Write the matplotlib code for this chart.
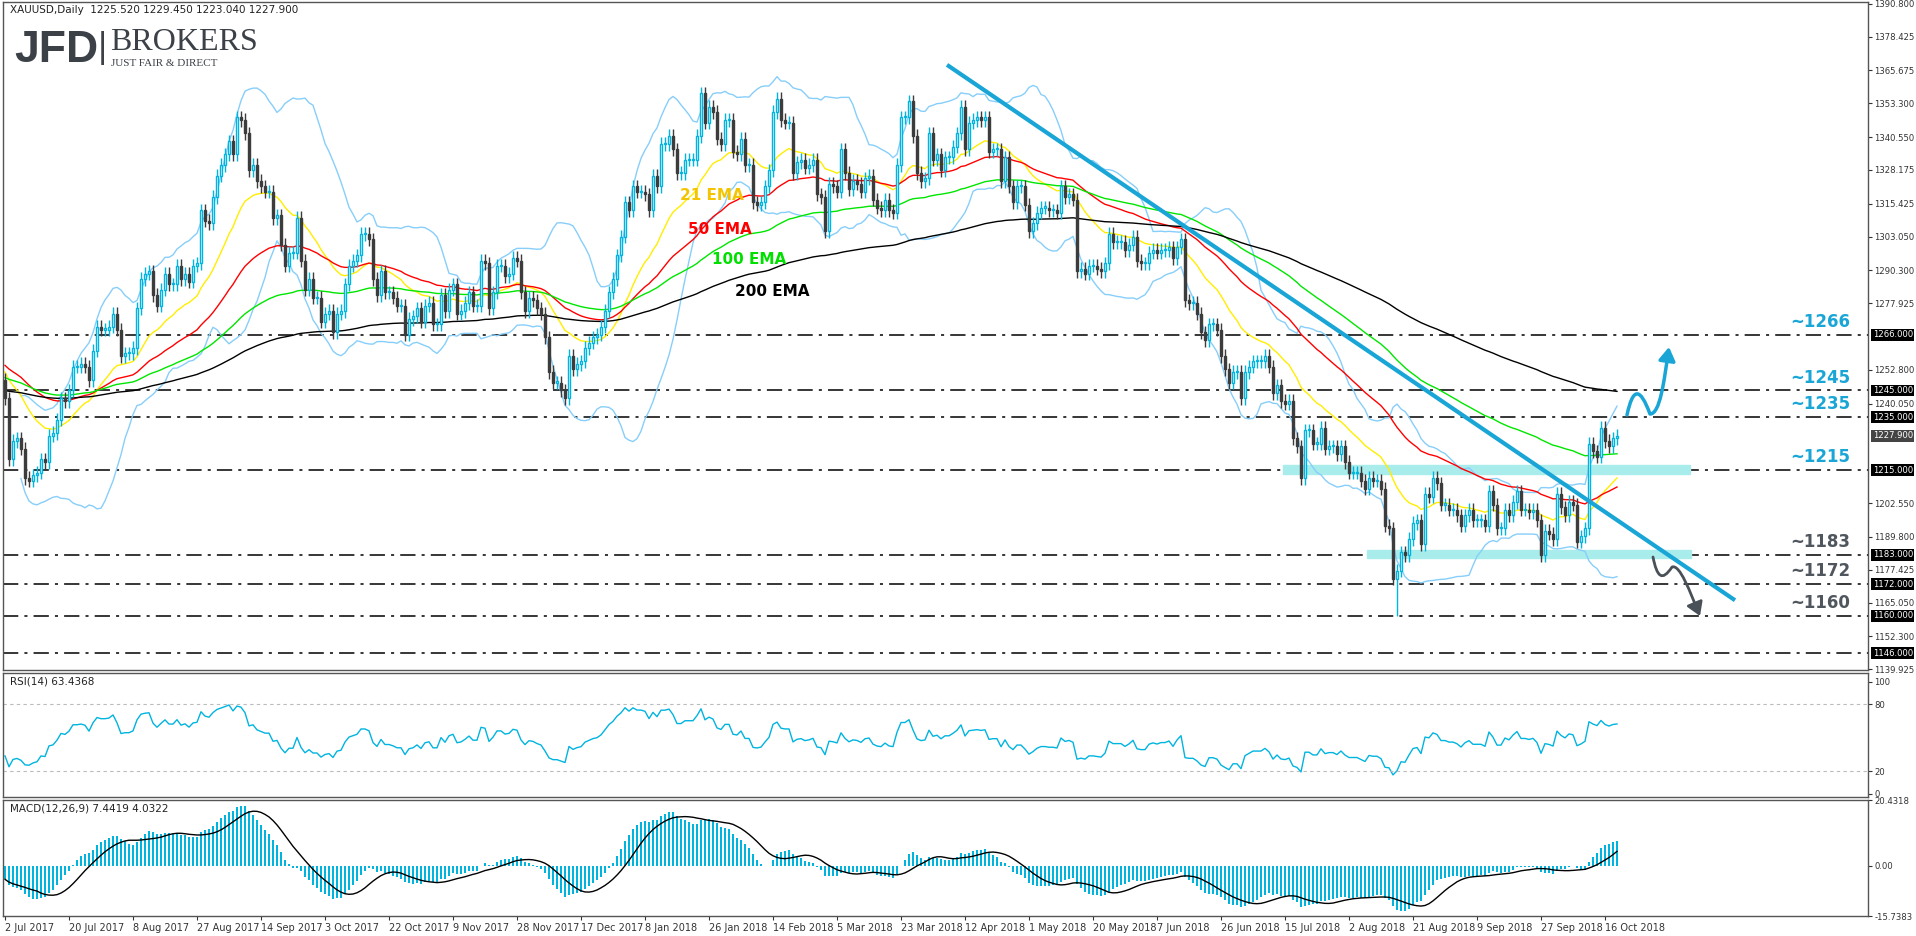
import numpy as np
import pandas as pd
import matplotlib
matplotlib.use("Agg")
import matplotlib.pyplot as plt
from matplotlib.patches import Rectangle, FancyArrowPatch
from matplotlib.path import Path

# ---- data (daily closes, MT4 bars Sun..Fri, from 2 Jul 2017) ----
closes = [
 1242,1219,1226,1227,1223,1212, 1211,1213,1214,1219,1218,1228, 1229,1234,1242,1241,1245,1254,
 1254,1255,1254,1249,1260,1269, 1268,1268,1269,1274,1268,1258, 1259,1259,1261,1276,1287,1289,
 1290,1281,1277,1283,1289,1285, 1285,1292,1287,1289,1286,1292, 1293,1313,1309,1308,1318,1326,
 1330,1334,1339,1334,1348,1347, 1342,1328,1330,1324,1322,1320, 1320,1310,1311,1300,1292,1297,
 1297,1310,1294,1283,1287,1280, 1280,1271,1274,1275,1267,1274, 1275,1285,1292,1294,1296,1304,
 1304,1302,1287,1281,1290,1282, 1282,1280,1277,1277,1266,1272, 1273,1276,1271,1277,1278,1270,
 1270,1281,1275,1283,1285,1274, 1275,1278,1282,1277,1277,1294, 1293,1276,1282,1292,1292,1288,
 1289,1295,1294,1282,1275,1280, 1279,1276,1274,1265,1252,1248, 1248,1245,1242,1258,1253,1255,
 1256,1261,1263,1265,1266,1269, 1275,1282,1287,1296, 1303,1316,1313,1322,1320,
 1320,1319,1313,1326,1322,1338, 1338,1341,1336,1327,1327,1332, 1332,1332,1341,1357,1346,1352,
 1350,1340,1338,1347,1347,1335, 1334,1340,1330,1330,1316,1315, 1316,1322,1328,1350,1355,1347,
 1346,1346,1327,1331,1332,1329, 1330,1332,1319,1318,1305,1323, 1322,1320,1336,1327,1321,1324,
 1323,1320,1325,1326,1317,1314, 1313,1317,1313,1312,1330,1348, 1348,1354,1341,1327,1324,
 1325,1342,1332,1334,1328,1333, 1333,1337,1342,1352,1336,1346, 1347,1348,1347,1348,1335,1336,
 1336,1324,1333,1322,1316,1322, 1322,1315,1305,1308,1312,1314, 1314,1313,1313,1312,1322,1318,
 1319,1317,1290,1291,1289,1292, 1292,1291,1290,1293,1304,1301, 1301,1301,1298,1300,1303,1294,
 1293,1293,1297,1298,1297,1298, 1298,1299,1295,1299,1302,1279, 1278,1278,1274,1267,1264,1270,
 1270,1268,1258,1253,1248,1252, 1252,1242,1252,1254,1256,1256, 1256,1258,1254,1244,1247,1241,
 1240,1241,1227,1224,1212,1230, 1230,1225,1225,1231,1223,1224, 1224,1221,1224,1218,1214,1214,
 1214,1211,1208,1212,1211,1211, 1208,1194,1193,1174,1177,1184, 1183,1189,1195,1196,1187,1206,
 1205,1212,1210,1202,1202,1200, 1200,1198,1194,1198,1200,1196, 1196,1196,1194,1207,1202,1193,
 1193,1200,1198,1203,1207,1200, 1200,1199,1200,1196,1183,1192, 1191,1189,1206,1201,1198,1203,
 1202,1188,1190,1193,1225,1222, 1220,1231,1226,1224,1227,1227.9,
]
first_open = 1249.0
wick = 2.5
spike_lows = {"2018-08-16": 1160.0}
skip_days = ["2017-12-24", "2017-12-25", "2018-01-01", "2018-03-30"]
ema_seeds = {21: 1253.0, 50: 1255.0, 100: 1250.0, 200: 1245.0}
macd_seeds = {"ema12": 1245.0, "ema26": 1249.4, "signal": -4.0}
rsi_seeds = {"up": 1.6, "down": 2.6}
levels = [1266, 1245, 1235, 1215, 1183, 1172, 1160, 1146]
cyan_levels = ["~1266", "~1245", "~1235", "~1215"]
grey_levels = ["~1183", "~1172", "~1160"]
price_ticks = [1390.800,1378.425,1365.675,1353.300,1340.550,1328.175,1315.425,1303.050,1290.300,
               1277.925,1252.800,1240.050,1202.550,1189.800,1177.425,1165.050,1152.300,1139.925]

# ---- dates ----
days = pd.date_range("2017-07-02", "2018-10-19", freq="D")
days = [d for d in days if d.dayofweek != 5 and d.strftime("%Y-%m-%d") not in skip_days]
n = len(closes)
days = days[:n]
c = np.array(closes, float)
o = np.concatenate([[first_open], c[:-1]])
hi = np.maximum(o, c) + wick
lo = np.minimum(o, c) - wick
for i, d in enumerate(days):
    k = d.strftime("%Y-%m-%d")
    if k in spike_lows:
        lo[i] = spike_lows[k]

def ema(x, p, seed):
    a = 2 / (p + 1); out = []; v = seed
    for xi in x:
        v = v + a * (xi - v); out.append(v)
    return np.array(out)

emas = {p: ema(c, p, s) for p, s in ema_seeds.items()}
s = pd.Series(c)
mid = s.rolling(20, min_periods=5).mean()
sd = s.rolling(20, min_periods=5).std(ddof=0)
bu, bl = mid + 2 * sd, mid - 2 * sd
delta = np.diff(np.concatenate([[first_open], c]))
u, d_ = rsi_seeds["up"], rsi_seeds["down"]; rsi = []
for dv in delta:
    u = u + (max(dv, 0) - u) / 14
    d_ = d_ + (max(-dv, 0) - d_) / 14
    rsi.append(100 - 100 / (1 + u / d_))
rsi = np.array(rsi)
macd = ema(c, 12, macd_seeds["ema12"]) - ema(c, 26, macd_seeds["ema26"])
sig = pd.Series(macd).rolling(9, min_periods=1).mean().values

# ---- figure ----
W, H = 1916, 936
fig = plt.figure(figsize=(W/100, H/100), dpi=100)
plt.rcParams['font.family'] = ['DejaVu Sans']
L = 3/W; R = 1868/W
def ax_at(top, bot):
    return fig.add_axes([L, 1-bot/H, R-L, (bot-top)/H])
ax = ax_at(2, 670); ar = ax_at(673, 797); am = ax_at(800, 916)
xmax = (1868 - 3) / 4 - 0.5
TFS = 6.1
for a in (ax, ar, am):
    a.set_xlim(-0.5, xmax)
    a.yaxis.tick_right()
    a.tick_params(axis='y', labelsize=TFS, length=3, colors='#333333', pad=1.5)
    for sp in a.spines.values():
        sp.set_color('#555555'); sp.set_linewidth(1)
    a.set_xticks([])

x = np.arange(n)
Y0, Y1 = 1139.6, 1391.5
ax.set_ylim(Y0, Y1)
for i in x:
    col = '#00b4e0' if c[i] >= o[i] else '#3c3c3c'
    ax.vlines(i, lo[i], hi[i], color=col, lw=1, zorder=3)
    b0, b1 = min(o[i], c[i]), max(o[i], c[i])
    if b1 - b0 < 0.4: b1 = b0 + 0.4
    fc = 'white' if c[i] >= o[i] else col
    ax.add_patch(Rectangle((i-0.35, b0), 0.7, b1-b0, facecolor=fc, edgecolor=col, lw=1, zorder=4))
ax.plot(x, bu, color='#87cefa', lw=1, zorder=2)
ax.plot(x, bl, color='#87cefa', lw=1, zorder=2)
for p, col in [(21, '#ffee00'), (50, '#ff0000'), (100, '#00e600'), (200, '#000000')]:
    ax.plot(x, emas[p], color=col, lw=1, zorder=2)
for lv in levels:
    ax.axhline(lv, color='black', lw=1.1, dashes=(10, 4, 2, 4), zorder=1)

def px2x(px): return (px - 3) / 4 - 0.5
def y2p(py): return Y1 - py / 668 * (Y1 - Y0)
ax.add_patch(Rectangle((px2x(1283), 1213.5), px2x(1690)-px2x(1283), 3.5, color='#a8ecec', zorder=1.5))
ax.add_patch(Rectangle((px2x(1367), 1181.8), px2x(1691)-px2x(1367), 3.0, color='#a8ecec', zorder=1.5))
ax.plot([px2x(947), px2x(1735)], [1367.8, 1165.9], color='#19a5d6', lw=3, zorder=5, solid_capstyle='butt')

vb = [(px2x(1627), y2p(413)), (px2x(1633), y2p(385)), (px2x(1640), y2p(385)),
      (px2x(1650), y2p(412)), (px2x(1660), y2p(412)), (px2x(1664), y2p(380)), (px2x(1669), y2p(345))]
ax.add_patch(FancyArrowPatch(path=Path(vb, [1, 4, 4, 4, 4, 4, 4]), arrowstyle='-|>,head_length=8,head_width=5',
                             color='#19a5d6', lw=2.5, zorder=6))
vg = [(px2x(1653), y2p(555)), (px2x(1657), y2p(575)), (px2x(1662), y2p(580)),
      (px2x(1672), y2p(565)), (px2x(1680), y2p(562)), (px2x(1690), y2p(590)), (px2x(1700), y2p(614))]
ax.add_patch(FancyArrowPatch(path=Path(vg, [1, 4, 4, 4, 4, 4, 4]), arrowstyle='-|>,head_length=8,head_width=5',
                             color='#4a5058', lw=2, zorder=6))

for lab, lv in zip(cyan_levels + grey_levels, levels[:7]):
    ax.text(px2x(1850), lv + 1.5, lab, color='#19a5d6' if lab in cyan_levels else '#50565e',
            fontsize=12, fontweight='bold', ha='right', va='bottom', zorder=7)

ax.set_yticks(price_ticks)
ax.set_yticklabels([f"{t:.3f}" for t in price_ticks])
for lv in levels + [1227.9]:
    ax.text(1.0025, (lv - Y0) / (Y1 - Y0), f"{lv:.3f}", transform=ax.transAxes,
            fontsize=TFS, color='white', va='center', ha='left',
            bbox=dict(boxstyle='square,pad=0.15', fc='#444444' if lv == 1227.9 else 'black', ec='none'))

ax.text(px2x(680), y2p(194), "21 EMA", color='#f5c400', fontsize=11, fontweight='bold', va='center')
ax.text(px2x(688), y2p(228), "50 EMA", color='#ff0000', fontsize=11, fontweight='bold', va='center')
ax.text(px2x(712), y2p(258), "100 EMA", color='#00e000', fontsize=11, fontweight='bold', va='center')
ax.text(px2x(735), y2p(289), "200 EMA", color='black', fontsize=11, fontweight='bold', va='center')

ax.text(0.004, 0.995, "XAUUSD,Daily  1225.520 1229.450 1223.040 1227.900", transform=ax.transAxes,
        fontsize=7.5, va='top', color='#222222')
fig.text(14/W, 1-50/H, "JFD", fontsize=32, fontweight='bold', color='#3c4148', va='center', family='Liberation Sans')
fig.text(97/W, 1-48/H, "|", fontsize=24, color='#3c4148', va='center')
fig.text(110/W, 1-42/H, "BROKERS", fontsize=23, color='#3c4148', va='center', family='Liberation Serif')
fig.text(111/W, 1-64/H, "JUST FAIR & DIRECT", fontsize=8, color='#3c4148', va='center', family='Liberation Serif')

# RSI
ar.set_ylim(-3, 108)
ar.plot(x, rsi, color='#00b4e0', lw=1)
for lv in (80, 20):
    ar.axhline(lv, color='#bbbbbb', lw=0.8, ls=(0, (3, 3)))
ar.set_yticks([100, 80, 20, 0])
ar.text(0.004, 0.97, "RSI(14) 63.4368", transform=ar.transAxes, fontsize=7.5, va='top', color='#222222')

# MACD
am.set_ylim(-15.7383, 20.4318)
am.bar(x, macd, width=0.35, color='#00b4e0')
am.plot(x, sig, color='black', lw=1)
am.set_yticks([20.4318, 0, -15.7383])
am.set_yticklabels(["20.4318", "0.00", "-15.7383"])
am.text(0.004, 0.97, "MACD(12,26,9) 7.4419 4.0322", transform=am.transAxes, fontsize=7.5, va='top', color='#222222')
tk = list(range(0, n, 16))
am.set_xticks(tk)
am.set_xticklabels([f"{days[i].day} {days[i]:%b %Y}" for i in tk], fontsize=7, ha='left')
am.tick_params(axis='x', length=3, pad=2, colors='#333333')

fig.savefig("out.png", dpi=100)
